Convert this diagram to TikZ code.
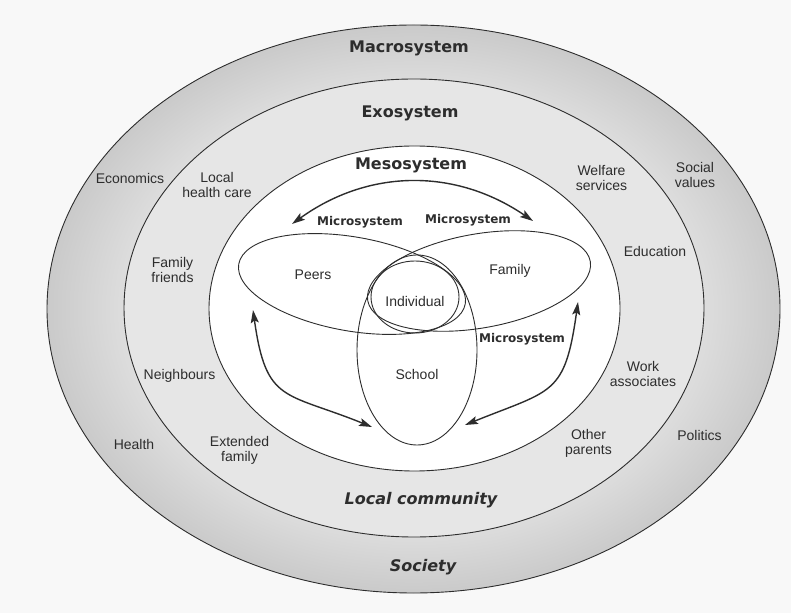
\documentclass[tikz,border=0pt]{standalone}
\usepackage{fontspec}
\setmainfont{Liberation Sans}
\newfontfamily\headfont{DejaVu Sans}
\usetikzlibrary{arrows.meta,shapes.geometric,positioning}

\definecolor{macroin}{RGB}{222,222,222}
\definecolor{macroout}{RGB}{202,202,202}
\definecolor{exogray}{RGB}{230,230,230}
\definecolor{paper}{RGB}{248,248,248}
\definecolor{ink}{RGB}{45,45,45}
\pgfdeclareradialshading{macroshade}{\pgfpoint{0bp}{0bp}}{color(0bp)=(macroin); color(19.5bp)=(macroin); color(25bp)=(macroout); color(50bp)=(macroout)}

\begin{document}
\begin{tikzpicture}[x=1pt,y=1pt,>={Stealth[length=13pt,width=8pt,inset=2.5pt]},
  sys/.style   ={ellipse,draw=ink,line width=0.9pt,inner sep=0pt},
  lbl/.style   ={font=\fontsize{14}{15}\selectfont,align=center,text=ink},
  head/.style  ={font=\headfont\bfseries\fontsize{16}{18}\selectfont,text=ink},
  micro/.style ={font=\headfont\bfseries\fontsize{12}{14}\selectfont,text=ink},
  place/.style ={font=\headfont\bfseries\itshape\fontsize{16}{18}\selectfont,text=ink},
  link/.style  ={<->,line width=1.4pt,draw=ink}]
  \useasboundingbox (0,0) rectangle (791,613);
  \fill[paper] (0,0) rectangle (791,613);

  \node[sys,shade,shading=macroshade,minimum width=733,minimum height=568] (macro) at (413.5,304) {};
  \node[sys,fill=exogray,minimum width=580,minimum height=458]   (exo)    at (414,305)     {};
  \node[sys,fill=white,minimum width=411,minimum height=325]     (meso)   at (414.5,304.5) {};
  \node[sys,minimum width=230,minimum height=94,rotate=-10]      (peers)  at (352,329)     {};
  \node[sys,minimum width=226,minimum height=94,rotate=10]       (family) at (479,332)     {};
  \node[sys,minimum width=120,minimum height=190]                (school) at (417,263)     {};
  \node[sys,minimum width=88,minimum height=72]                  (indiv)  at (415,316)     {};

  \node[head]  (macrotxt)  at (409,565)   {Macrosystem};
  \node[head]  (exotxt)    at (410,500)   {Exosystem};
  \node[head]  (mesotxt)   at (411,448)   {Mesosystem};
  \node[place] (localtxt)  at (421,113)   {Local community};
  \node[place] (societytxt) at (423,46)   {Society};

  \node[micro] (microL) at (360,391)   {Microsystem};
  \node[micro] (microR) at (468,393)   {Microsystem};
  \node[micro] (microS) at (522,273.5) {Microsystem};

  \node[lbl] (peerstxt)  at (313,338.5) {Peers};
  \node[lbl] (familytxt) at (510,342)   {Family};
  \node[lbl] (indivtxt)  at (415,312)   {Individual};
  \node[lbl] (schooltxt) at (417,239)   {School};

  \node[lbl] (econ)     at (130,434)   {Economics};
  \node[lbl] (health)   at (134,168.5) {Health};
  \node[lbl] (social)   at (695,437.5) {Social\\values};
  \node[lbl] (politics) at (699.5,178) {Politics};

  \node[lbl] (care)     at (217,428)   {Local\\health care};
  \node[lbl] (friends)  at (172.5,343) {Family\\friends};
  \node[lbl] (neigh)    at (179.5,237.5) {Neighbours};
  \node[lbl] (extended) at (239.5,162.5) {Extended\\family};
  \node[lbl] (welfare)  at (601.5,435) {Welfare\\services};
  \node[lbl] (educ)     at (655,362)   {Education};
  \node[lbl] (work)     at (643,239)   {Work\\associates};
  \node[lbl] (parents)  at (588.5,169.5) {Other\\parents};

  \coordinate (mesoL)   at (292,389);
  \coordinate (mesoR)   at (533,392);
  \coordinate (peersA)  at (253,303);
  \coordinate (schoolL) at (372,186);
  \coordinate (familyA) at (578,311);
  \coordinate (schoolR) at (465,188);

\path (mesoL)   edge [link,bend left=35] (mesoR)
      (peersA)  edge [link,out=-82,in=158,looseness=1.45] (schoolL)
      (familyA) edge [link,out=-98,in=22,looseness=1.45] (schoolR);
\end{tikzpicture}
\end{document}
